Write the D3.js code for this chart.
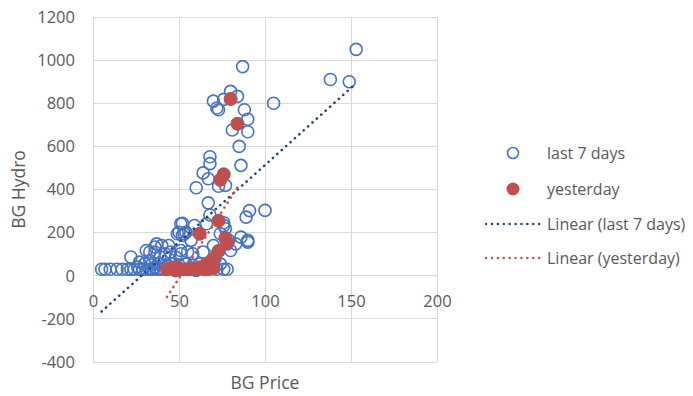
<!DOCTYPE html>
<html><head><meta charset="utf-8">
<script src="https://cdn.jsdelivr.net/npm/d3@7"></script>
<style>
html,body{margin:0;padding:0;background:#fff;}
text{font-family:"Open Sans",sans-serif;fill:#595959;}
</style></head>
<body>
<svg id="chart" width="693" height="396"></svg>
<script>
const xTicks = [0, 50, 100, 150, 200];
const yTicks = [-400, -200, 0, 200, 400, 600, 800, 1000, 1200];
const seriesNames = ["last 7 days", "yesterday", "Linear (last 7 days)", "Linear (yesterday)"];
const xTitle = "BG Price";
const yTitle = "BG Hydro";

// last 7 days: [BG Price, BG Hydro]
const last7days = [
  [153,1050],[138,910],[149,900],[87,970],[105,800],[80,855],[84,832],[80,820],[70,810],[72,778],
  [73,770],[76,818],[88,770],[90,726],[84,705],[81,676],[90,668],[85,600],[68,552],[68,520],
  [86,512],[64,477],[76,470],[67,450],[74,445],[60,408],[73,415],[77,419],[67,338],[91,302],
  [100,303],[89,272],[68,282],[73,255],[76,246],[52,243],[66,241],[51,241],[59,233],[76,233],
  [77,218],[50,202],[54,202],[49,195],[53,195],[62,195],[74,195],[52,187],[86,179],[77,175],
  [90,164],[79,164],[57,164],[78,155],[90,156],[83,148],[78,148],[37,148],[70,140],[40,140],
  [44,140],[36,133],[31,117],[80,117],[51,117],[73,115],[36,110],[45,110],[55,110],[64,110],
  [33,110],[42,102],[51,102],[58,102],[22,87],[39,87],[48,87],[70,80],[71,79],[44,79],
  [33,71],[27,63],[66,55],[30,55],[34,50],[38,55],[42,50],[46,55],[50,50],[54,55],
  [58,50],[62,55],[70,50],[74,55],[5,30],[7,30],[10,30],[14,30],[17,30],[20,30],
  [22,30],[24,30],[27,30],[29,30],[31,30],[33,30],[35,30],[37,30],[39,30],[41,30],
  [43,30],[45,35],[47,30],[49,40],[51,30],[53,30],[55,30],[57,30],[59,35],[61,30],
  [63,40],[65,30],[67,30],[70,35],[72,30],[76,30],[78,30],[48,25],[60,25],[26,40],
  [36,40],[44,45]
];

// yesterday: [BG Price, BG Hydro]
const yesterday = [
  [80,820],[84,705],[76,470],[74,445],[73,255],[62,195],[77,175],[78,155],[73,115],[70,80],
  [66,55],[63,40],[59,35],[67,30],[70,35],[65,30],[49,40],[47,30],[45,35],[43,30],
  [51,30],[48,25],[61,30],[55,30]
];

const svg = d3.select("#chart");
const x = d3.scaleLinear().domain([0, 200]).range([93, 437]);
const y = d3.scaleLinear().domain([-400, 1200]).range([362, 17]);
const fmt = d => String(d);

// gridlines
svg.append("g").selectAll("line").data(yTicks).join("line")
  .attr("x1", x(0)).attr("x2", x(200)).attr("y1", d => y(d)).attr("y2", d => y(d))
  .attr("stroke", "#d9d9d9").attr("stroke-width", 1).attr("shape-rendering", "crispEdges");
svg.append("g").selectAll("line").data(xTicks).join("line")
  .attr("y1", y(-400)).attr("y2", y(1200)).attr("x1", d => x(d)).attr("x2", d => x(d))
  .attr("stroke", "#d9d9d9").attr("stroke-width", 1).attr("shape-rendering", "crispEdges");

// y axis labels
const yAxis = d3.axisLeft(y).tickValues(yTicks).tickFormat(fmt).tickSize(0).tickPadding(0);
const gy = svg.append("g").attr("transform", `translate(${x(0) - 18},0)`).call(yAxis);
gy.select(".domain").remove();
gy.selectAll("text").style("font-family", '"Open Sans",sans-serif').style("font-size", "16.5px").attr("fill", "#595959");

// x axis labels at y = 0
const xAxis = d3.axisBottom(x).tickValues(xTicks).tickFormat(fmt).tickSize(0).tickPadding(0);
const gx = svg.append("g").attr("transform", `translate(0,${y(0) + 25})`).call(xAxis);
gx.select(".domain").remove();
gx.selectAll("text").style("font-family", '"Open Sans",sans-serif').style("font-size", "16.5px").attr("fill", "#595959").attr("dy", "0.35em").attr("y", 0);

// titles
svg.append("text").attr("x", x(100)).attr("y", 383).attr("text-anchor", "middle")
  .attr("dy", "0.35em").style("font-size", "17.5px").text(xTitle);
svg.append("text").attr("transform", `translate(19,${(y(-400) + y(1200)) / 2}) rotate(-90)`)
  .attr("text-anchor", "middle").attr("dy", "0.35em").style("font-size", "17.5px").text(yTitle);

const blue = "#4472C4", red = "#C0504D", navy = "#264478";

// last 7 days markers
svg.append("g").selectAll("circle").data(last7days).join("circle")
  .attr("cx", d => x(d[0])).attr("cy", d => y(d[1])).attr("r", 6)
  .attr("fill", "none").attr("stroke", blue).attr("stroke-width", 1.6);

// yesterday markers
svg.append("g").selectAll("circle").data(yesterday).join("circle")
  .attr("cx", d => x(d[0])).attr("cy", d => y(d[1])).attr("r", 6.5)
  .attr("fill", red).attr("stroke", red).attr("stroke-width", 0.8);

// linear trendlines (least squares)
function fit(data) {
  const mx = d3.mean(data, d => d[0]), my = d3.mean(data, d => d[1]);
  let sxy = 0, sxx = 0;
  data.forEach(d => { sxy += (d[0] - mx) * (d[1] - my); sxx += (d[0] - mx) ** 2; });
  const b = sxy / sxx, a = my - b * mx;
  const [x0, x1] = d3.extent(data, d => d[0]);
  return [[x0, a + b * x0], [x1, a + b * x1]];
}
const line = d3.line().x(d => x(d[0])).y(d => y(d[1]));
svg.append("path").attr("d", line(fit(last7days))).attr("stroke", navy).attr("stroke-width", 2.6)
  .attr("stroke-dasharray", "0.1 5.8").attr("stroke-linecap", "round").attr("fill", "none");
svg.append("path").attr("d", line(fit(yesterday))).attr("stroke", red).attr("stroke-width", 2.6)
  .attr("stroke-dasharray", "0.1 5.8").attr("stroke-linecap", "round").attr("fill", "none");

// legend
const lg = svg.append("g");
const ly = [153, 189, 224, 258];
lg.append("circle").attr("cx", 513).attr("cy", ly[0]).attr("r", 5.5).attr("fill", "none").attr("stroke", blue).attr("stroke-width", 1.6);
lg.append("circle").attr("cx", 513).attr("cy", ly[1]).attr("r", 6.5).attr("fill", red);
lg.append("line").attr("x1", 486).attr("x2", 540).attr("y1", ly[2]).attr("y2", ly[2]).attr("stroke", navy)
  .attr("stroke-width", 2.4).attr("stroke-dasharray", "0.1 5.8").attr("stroke-linecap", "round");
lg.append("line").attr("x1", 486).attr("x2", 540).attr("y1", ly[3]).attr("y2", ly[3]).attr("stroke", red)
  .attr("stroke-width", 2.4).attr("stroke-dasharray", "0.1 5.8").attr("stroke-linecap", "round");
lg.selectAll("text").data(seriesNames).join("text")
  .attr("x", 547).attr("y", (d, i) => ly[i]).attr("dy", "0.35em").style("font-size", "16px").text(d => d);
</script>
</body></html>
